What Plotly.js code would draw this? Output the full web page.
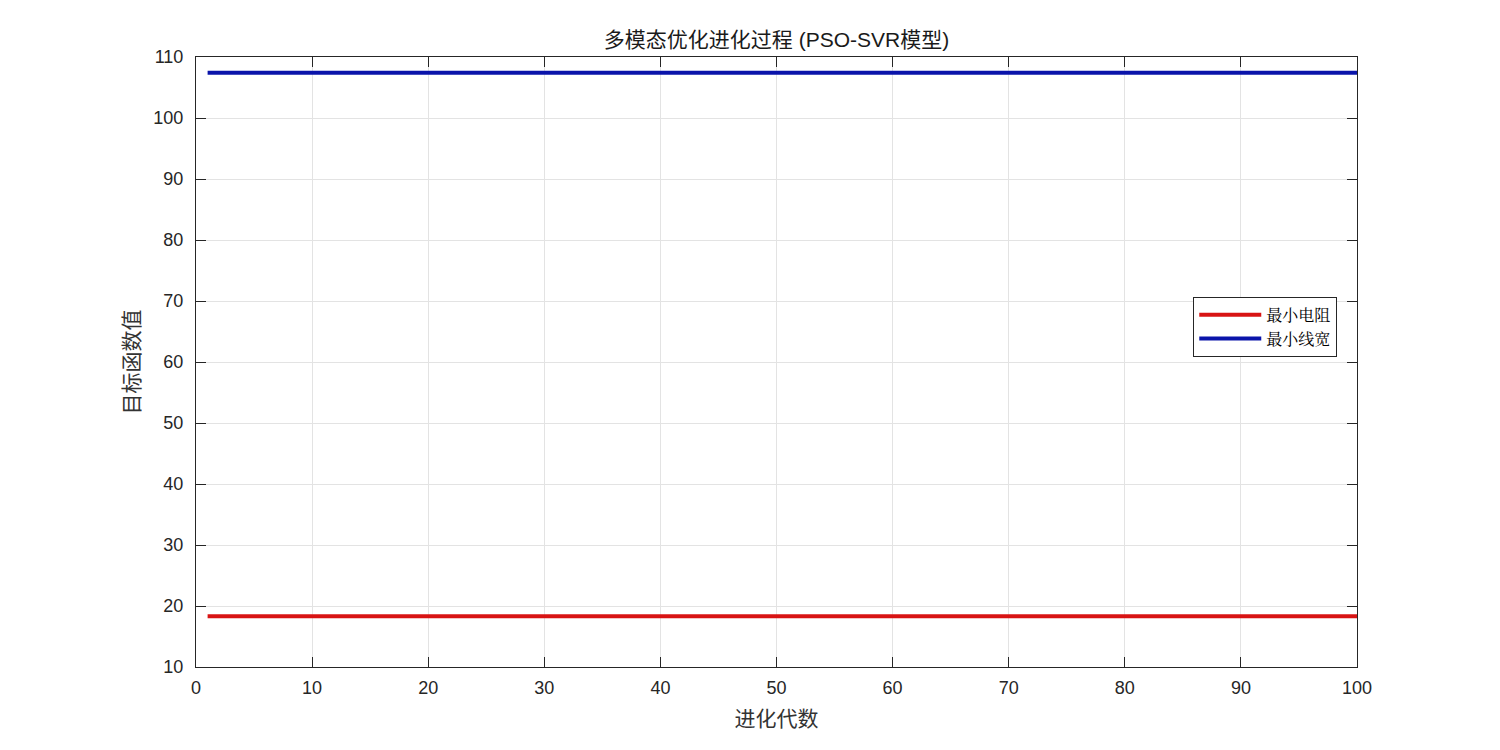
<!DOCTYPE html>
<html>
<head>
<meta charset="utf-8">
<script src="https://cdn.plot.ly/plotly-3.0.1.min.js"></script>
<style>html,body{margin:0;padding:0;background:#fff;}#chart{width:1500px;height:750px;}</style>
</head>
<body>
<div id="chart"></div>
<script>
var generations = [1,2,3,4,5,6,7,8,9,10,11,12,13,14,15,16,17,18,19,20,21,22,23,24,25,26,27,28,29,30,31,32,33,34,35,36,37,38,39,40,41,42,43,44,45,46,47,48,49,50,51,52,53,54,55,56,57,58,59,60,61,62,63,64,65,66,67,68,69,70,71,72,73,74,75,76,77,78,79,80,81,82,83,84,85,86,87,88,89,90,91,92,93,94,95,96,97,98,99,100];
var minResistance = [18.3,18.3,18.3,18.3,18.3,18.3,18.3,18.3,18.3,18.3,18.3,18.3,18.3,18.3,18.3,18.3,18.3,18.3,18.3,18.3,18.3,18.3,18.3,18.3,18.3,18.3,18.3,18.3,18.3,18.3,18.3,18.3,18.3,18.3,18.3,18.3,18.3,18.3,18.3,18.3,18.3,18.3,18.3,18.3,18.3,18.3,18.3,18.3,18.3,18.3,18.3,18.3,18.3,18.3,18.3,18.3,18.3,18.3,18.3,18.3,18.3,18.3,18.3,18.3,18.3,18.3,18.3,18.3,18.3,18.3,18.3,18.3,18.3,18.3,18.3,18.3,18.3,18.3,18.3,18.3,18.3,18.3,18.3,18.3,18.3,18.3,18.3,18.3,18.3,18.3,18.3,18.3,18.3,18.3,18.3,18.3,18.3,18.3,18.3,18.3];
var minLineWidth = [107.4,107.4,107.4,107.4,107.4,107.4,107.4,107.4,107.4,107.4,107.4,107.4,107.4,107.4,107.4,107.4,107.4,107.4,107.4,107.4,107.4,107.4,107.4,107.4,107.4,107.4,107.4,107.4,107.4,107.4,107.4,107.4,107.4,107.4,107.4,107.4,107.4,107.4,107.4,107.4,107.4,107.4,107.4,107.4,107.4,107.4,107.4,107.4,107.4,107.4,107.4,107.4,107.4,107.4,107.4,107.4,107.4,107.4,107.4,107.4,107.4,107.4,107.4,107.4,107.4,107.4,107.4,107.4,107.4,107.4,107.4,107.4,107.4,107.4,107.4,107.4,107.4,107.4,107.4,107.4,107.4,107.4,107.4,107.4,107.4,107.4,107.4,107.4,107.4,107.4,107.4,107.4,107.4,107.4,107.4,107.4,107.4,107.4,107.4,107.4];
var seriesNames = ['最小电阻', '最小线宽'];
var xTicks = [0,10,20,30,40,50,60,70,80,90,100];
var yTicks = [10,20,30,40,50,60,70,80,90,100,110];

var traces = [
  {x: generations, y: minResistance, name: seriesNames[0], type: 'scatter', mode: 'lines',
   line: {color: '#d81414', width: 4}},
  {x: generations, y: minLineWidth, name: seriesNames[1], type: 'scatter', mode: 'lines',
   line: {color: '#0a14aa', width: 4}}
];

var tickFont = {family: 'Liberation Sans, Arial, sans-serif', size: 18, color: '#262626'};
var axisCommon = {
  showline: true, linecolor: '#262626', linewidth: 1, mirror: 'ticks',
  ticks: 'inside', ticklen: 10, tickcolor: '#262626', tickwidth: 1,
  showgrid: true, gridcolor: '#e3e3e3', gridwidth: 1, zeroline: false,
  tickfont: tickFont
};

var layout = {
  width: 1500, height: 750,
  paper_bgcolor: '#ffffff', plot_bgcolor: '#ffffff',
  margin: {l: 196, r: 143, t: 57, b: 83},
  showlegend: true,
  title: {text: '多模态优化进化过程 (PSO-SVR模型)', x: 0.5, xref: 'paper', xanchor: 'center',
          y: 0.947, yref: 'container', yanchor: 'middle',
          font: {family: 'Liberation Sans, Noto Sans CJK SC, sans-serif', size: 21, color: '#1a1a1a'}},
  xaxis: Object.assign({}, axisCommon, {
    range: [0, 100], tickvals: xTicks, ticktext: xTicks.map(String), ticklabelstandoff: 4,
    title: {text: '进化代数', standoff: 14, font: {family: 'Noto Sans CJK SC, sans-serif', size: 21, color: '#333333'}}
  }),
  yaxis: Object.assign({}, axisCommon, {
    range: [10, 110], tickvals: yTicks, ticktext: yTicks.map(String), ticklabelstandoff: 8,
    title: {text: '目标函数值', standoff: 8, font: {family: 'Noto Sans CJK SC, sans-serif', size: 21, color: '#333333'}}
  }),
  legend: {
    x: 0.983, xanchor: 'right', y: 0.607, yanchor: 'top',
    bgcolor: '#ffffff', bordercolor: '#262626', borderwidth: 1,
    font: {family: 'Noto Serif CJK SC, Noto Sans CJK SC, serif', size: 16, color: '#000'},
    itemwidth: 62, tracegroupgap: 0
  }
};

Plotly.newPlot('chart', traces, layout, {displayModeBar: false});
</script>
</body>
</html>
